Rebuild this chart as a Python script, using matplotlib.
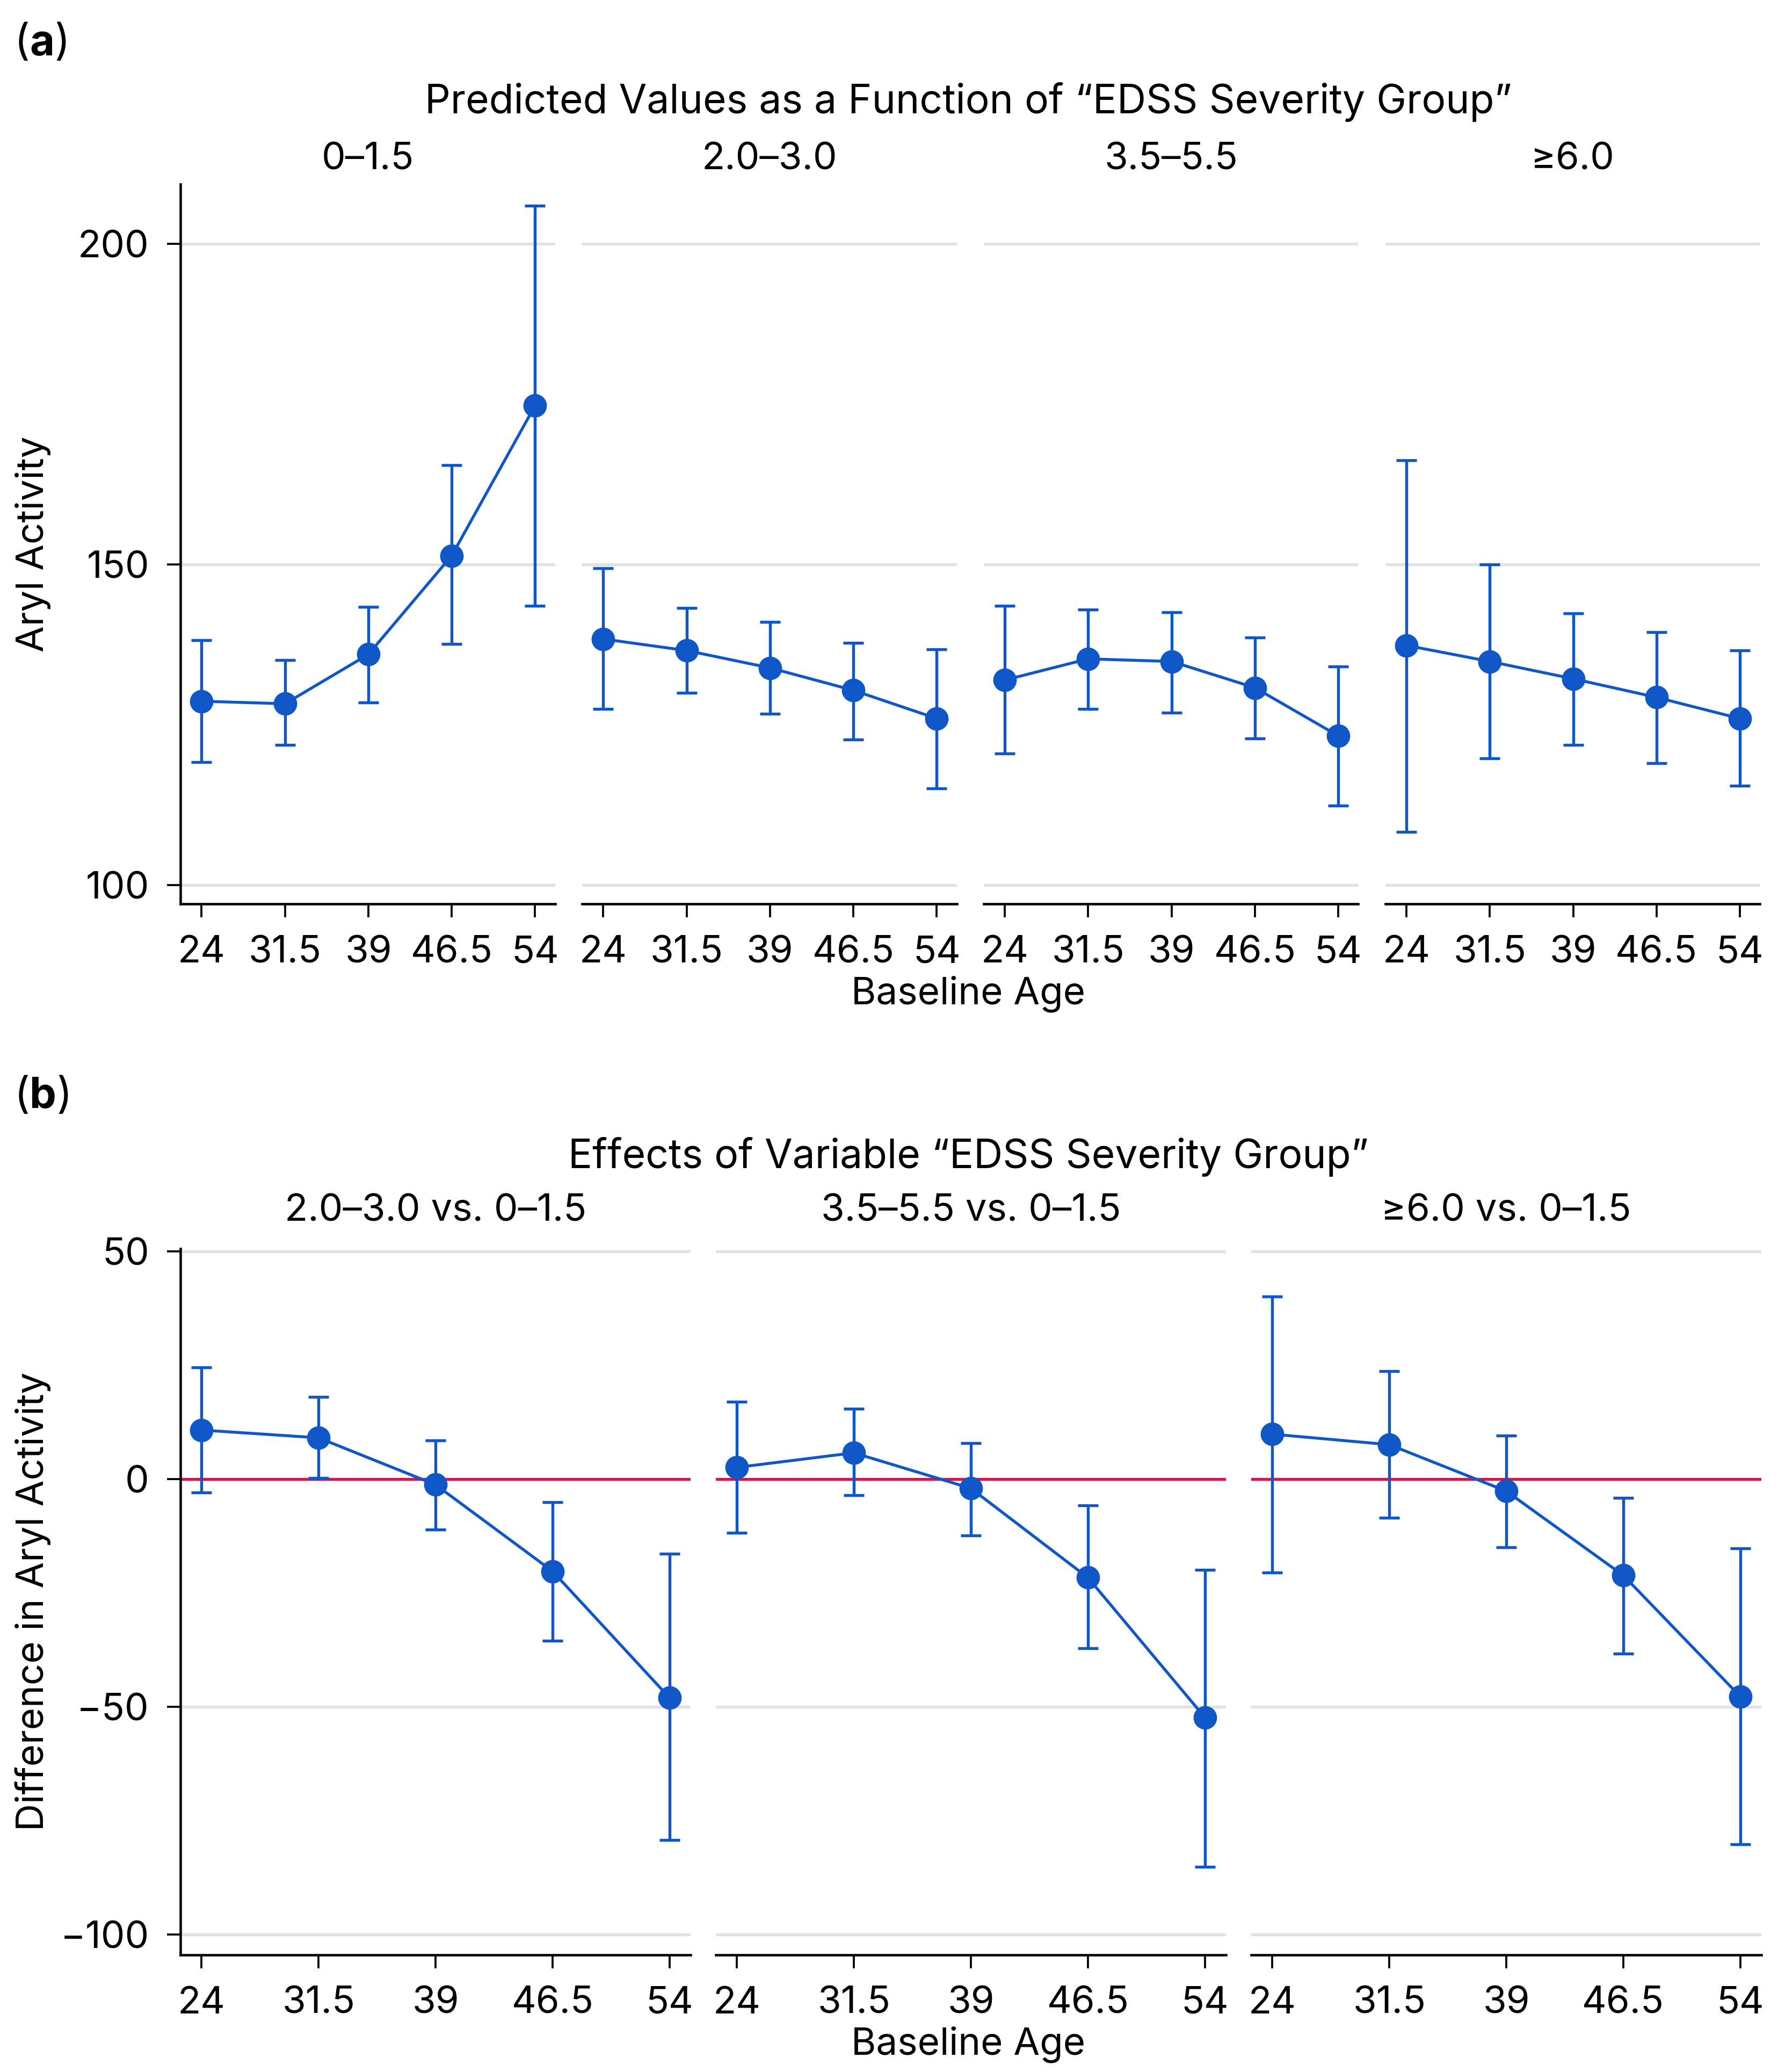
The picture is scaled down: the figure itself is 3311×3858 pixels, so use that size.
import matplotlib
matplotlib.use("Agg")
from matplotlib import pyplot as plt

plt.rcParams["font.family"] = ["Inter", "DejaVu Sans"]

ages = [24, 31.5, 39, 46.5, 54]
age_labels = ["24", "31.5", "39", "46.5", "54"]

# (a) predicted values per EDSS group
groups_a = ["0–1.5", "2.0–3.0", "3.5–5.5", "≥6.0"]
pred = [
    [128.7, 128.3, 136.0, 151.4, 174.8],
    [138.4, 136.6, 133.9, 130.4, 126.0],
    [132.0, 135.3, 134.9, 130.8, 123.3],
    [137.4, 134.9, 132.2, 129.3, 126.0],
]
pred_lo = [
    [119.2, 121.9, 128.5, 137.6, 143.6],
    [127.5, 130.0, 126.7, 122.7, 115.1],
    [120.5, 127.5, 126.9, 122.9, 112.4],
    [108.3, 119.8, 121.9, 119.0, 115.5],
]
pred_hi = [
    [138.2, 135.1, 143.4, 165.5, 206.0],
    [149.4, 143.2, 141.1, 137.8, 136.8],
    [143.6, 143.0, 142.6, 138.6, 134.1],
    [166.3, 150.0, 142.4, 139.5, 136.6],
]

# (b) differences vs 0–1.5
groups_b = ["2.0–3.0 vs. 0–1.5", "3.5–5.5 vs. 0–1.5", "≥6.0 vs. 0–1.5"]
diff = [
    [10.8, 9.1, -1.2, -20.2, -48.0],
    [2.6, 5.8, -2.0, -21.6, -52.3],
    [9.9, 7.6, -2.6, -21.1, -47.7],
]
diff_lo = [
    [-2.9, 0.3, -11.1, -35.4, -79.2],
    [-11.7, -3.5, -12.3, -37.1, -85.1],
    [-20.5, -8.5, -14.9, -38.3, -80.1],
]
diff_hi = [
    [24.6, 18.1, 8.5, -5.0, -16.4],
    [17.0, 15.5, 7.9, -5.8, -19.9],
    [40.1, 23.7, 9.6, -4.1, -15.2],
]

BLUE = "#0f57c8"
RED = "#d0184a"
GRID = "#e2e2e2"
FS = 17

fig = plt.figure(figsize=(11.04, 12.86), dpi=300)


def style_axes(ax, first):
    ax.grid(axis="y", color=GRID, linewidth=1.3, zorder=0)
    ax.set_axisbelow(True)
    ax.spines["top"].set_visible(False)
    ax.spines["right"].set_visible(False)
    ax.spines["bottom"].set_linewidth(1.1)
    ax.spines["left"].set_linewidth(1.1)
    ax.tick_params(labelsize=FS, width=0.9, length=6, pad=8)
    ax.set_xticks(ages)
    ax.set_xticklabels(age_labels)
    if not first:
        ax.spines["left"].set_visible(False)
        ax.tick_params(axis="y", left=False, labelleft=False)


def draw(ax, y, lo, hi):
    yerr = [[v - l for v, l in zip(y, lo)], [h - v for v, h in zip(y, hi)]]
    ax.errorbar(ages, y, yerr=yerr, color=BLUE, marker="o", markersize=9.5,
                linewidth=1.3, elinewidth=1.3, capsize=4.5, capthick=1.3,
                zorder=3)


# panel (a)
left, w, gap = 0.1015, 0.2106, 0.0152
bot_a, top_a = 0.5638, 0.911
for i, g in enumerate(groups_a):
    ax = fig.add_axes([left + i * (w + gap), bot_a, w, top_a - bot_a])
    style_axes(ax, i == 0)
    draw(ax, pred[i], pred_lo[i], pred_hi[i])
    ax.set_xlim(22.1, 55.8)
    ax.set_ylim(97.1, 209.3)
    ax.set_yticks([100, 150, 200])
    ax.text(0.5, (0.9231 - bot_a) / (top_a - bot_a), g,
            transform=ax.transAxes, ha="center", va="center", fontsize=FS)

# panel (b)
w2, gap2 = 0.2868, 0.0142
bot_b, top_b = 0.0566, 0.3973
for i, g in enumerate(groups_b):
    ax = fig.add_axes([left + i * (w2 + gap2), bot_b, w2, top_b - bot_b])
    style_axes(ax, i == 0)
    ax.axhline(0, color=RED, linewidth=1.3, zorder=2)
    draw(ax, diff[i], diff_lo[i], diff_hi[i])
    ax.set_xlim(22.65, 55.35)
    ax.set_ylim(-104.4, 50.6)
    ax.set_yticks([-100, -50, 0, 50])
    ax.set_yticklabels(["−100", "−50", "0", "50"])
    ax.text(0.5, (0.4156 - bot_b) / (top_b - bot_b), g,
            transform=ax.transAxes, ha="center", va="center", fontsize=FS)

fig.text(0.0185, (bot_a + top_a) / 2, "Aryl Activity", rotation=90,
         ha="center", va="center", fontsize=FS)
fig.text(0.0185, (bot_b + top_b) / 2, "Difference in Aryl Activity",
         rotation=90, ha="center", va="center", fontsize=FS)

fig.text(0.5444, 0.9507, "Predicted Values as a Function of “EDSS Severity Group”",
         ha="center", va="center", fontsize=FS + 1)
fig.text(0.5444, 0.4416, "Effects of Variable “EDSS Severity Group”",
         ha="center", va="center", fontsize=FS + 1)
fig.text(0.5444, 0.5202, "Baseline Age", ha="center", va="center", fontsize=FS)
fig.text(0.5444, 0.0133, "Baseline Age", ha="center", va="center", fontsize=FS)

for label, ypos in [("a", 0.979), ("b", 0.4706)]:
    t1 = fig.text(0.008, ypos, "(", ha="left", va="center", fontsize=FS + 2)
    t2 = plt.annotate(label, xy=(1, 0), xycoords=t1, va="bottom", ha="left",
                      fontsize=FS + 2, weight="bold")
    plt.annotate(")", xy=(1, 0), xycoords=t2, va="bottom", ha="left",
                 fontsize=FS + 2)

fig.savefig("out.png", dpi=300)
